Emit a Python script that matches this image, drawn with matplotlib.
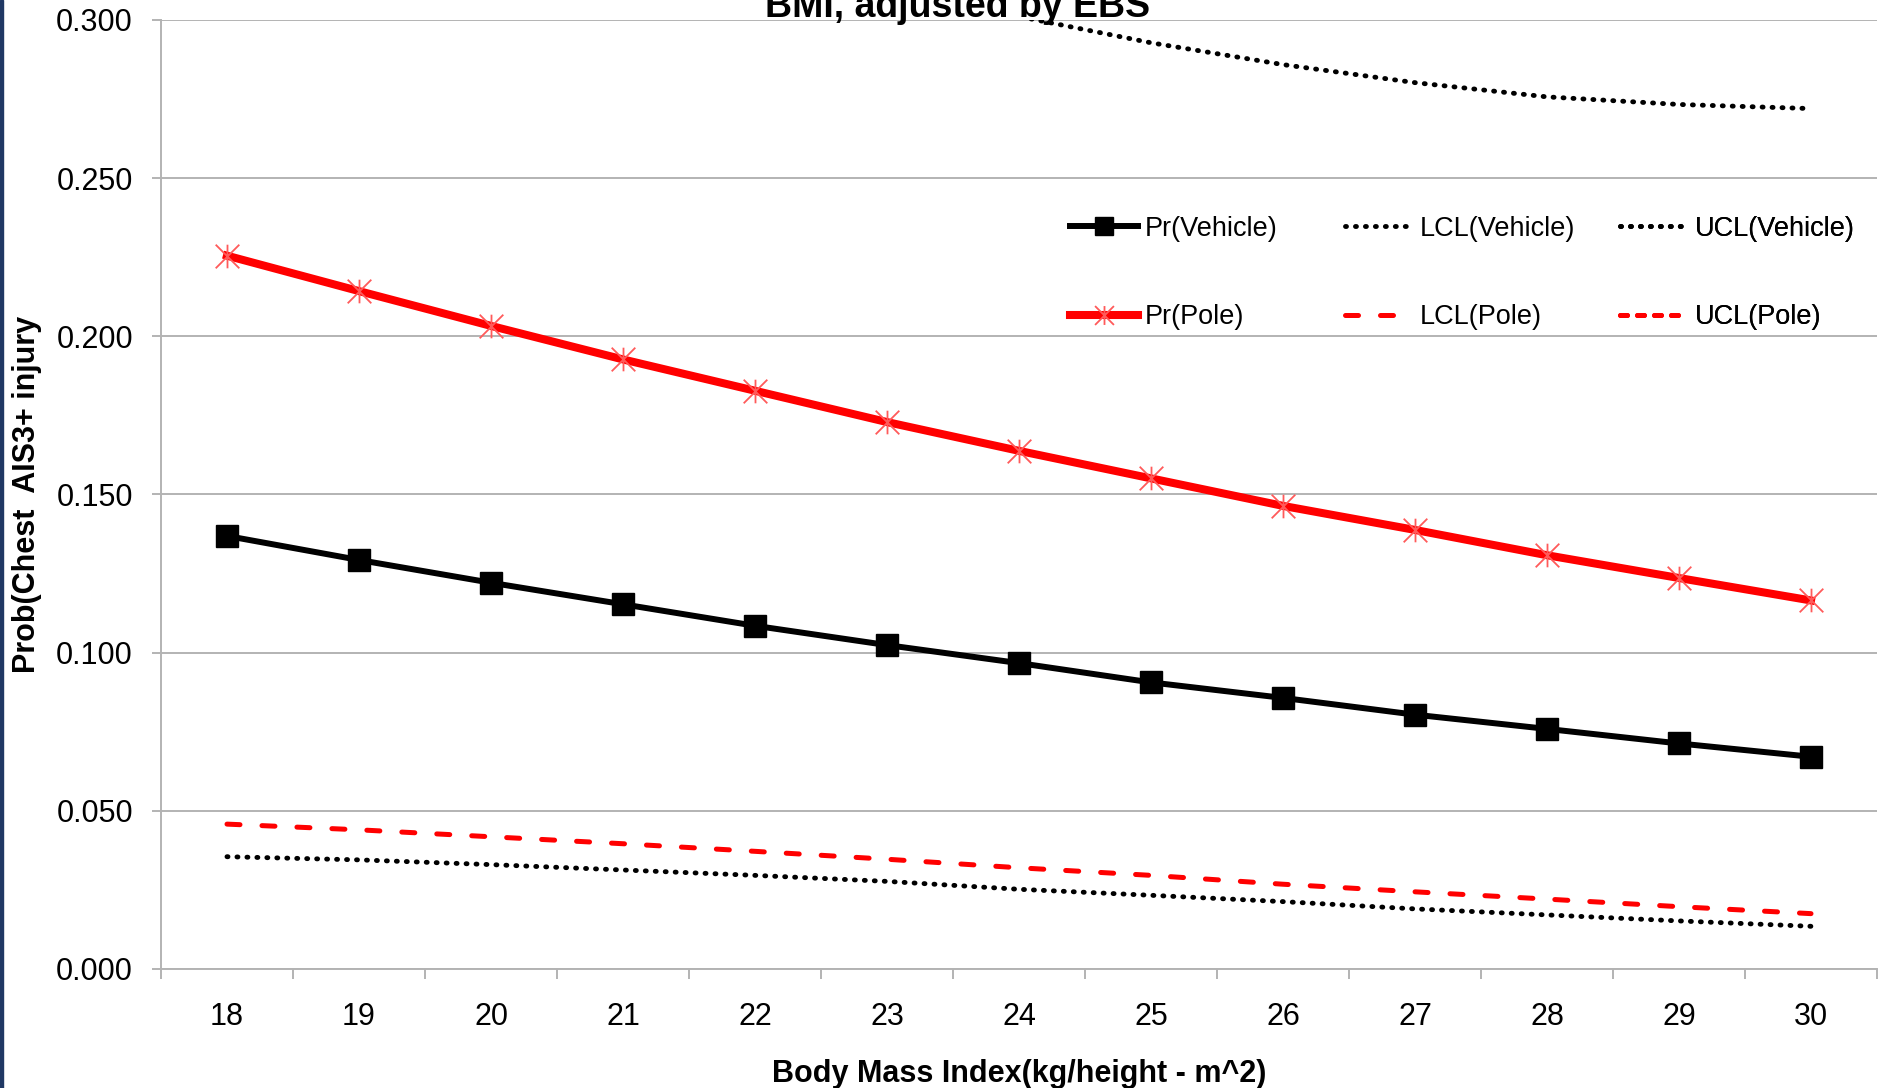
import matplotlib
matplotlib.use("Agg")
import matplotlib.pyplot as plt
import numpy as np
from matplotlib.path import Path
from matplotlib.patches import Rectangle
from matplotlib.ticker import FormatStrFormatter, MultipleLocator, FixedLocator

plt.rcParams['font.family'] = ['Liberation Sans', 'DejaVu Sans']

bmi = [18, 19, 20, 21, 22, 23, 24, 25, 26, 27, 28, 29, 30]

pr_vehicle = [0.1369, 0.1293, 0.1221, 0.1153, 0.1085, 0.1024, 0.0967,
              0.0906, 0.0857, 0.0804, 0.0759, 0.0713, 0.0671]
lcl_vehicle = [0.0355, 0.0345, 0.0330, 0.0313, 0.0296, 0.0277, 0.0252,
               0.0233, 0.0213, 0.0190, 0.0171, 0.0152, 0.0135]
ucl_vehicle = [0.3808, 0.3638, 0.3483, 0.3343, 0.3218, 0.3108, 0.3011,
               0.2928, 0.2859, 0.2802, 0.2757, 0.2733, 0.2720]

pr_pole = [0.2255, 0.2143, 0.2033, 0.1927, 0.1828, 0.1729, 0.1638,
           0.1551, 0.1464, 0.1388, 0.1308, 0.1236, 0.1165]
lcl_pole = [0.0458, 0.0440, 0.0418, 0.0396, 0.0372, 0.0347, 0.0320,
            0.0296, 0.0268, 0.0244, 0.0221, 0.0197, 0.0175]
ucl_pole = [0.660, 0.645, 0.630, 0.615, 0.600, 0.585, 0.570,
            0.556, 0.542, 0.528, 0.515, 0.502, 0.490]

GRID = '#b3b3b3'

# asterisk marker: an X with a vertical stroke through it
star = Path([(-1, -1), (1, 1), (-1, 1), (1, -1), (0, -1), (0, 1)],
            [Path.MOVETO, Path.LINETO, Path.MOVETO, Path.LINETO,
             Path.MOVETO, Path.LINETO])

W, H = 1880, 1088
fig = plt.figure(figsize=(W / 100, H / 100), dpi=100)
ax = fig.add_axes([161 / W, 1 - 969 / H, (1877 - 161) / W, (969 - 20) / H])

dots = dict(color='black', lw=3.5, linestyle=(0, (0.2, 1.85)),
            dash_capstyle='round', zorder=4)

l_prv, = ax.plot(bmi, pr_vehicle, color='black', lw=4.3, marker='s', ms=16,
                 mew=1, label='Pr(Vehicle)', zorder=5)
l_lclv, = ax.plot(bmi, lcl_vehicle, label='LCL(Vehicle)', **dots)
l_uclv, = ax.plot(bmi, ucl_vehicle, label='UCL(Vehicle)', **dots)
l_prp, = ax.plot(bmi, pr_pole, color='#ff0000', lw=5.8, marker=star, ms=17,
                 mec='#ff5a5a', mew=1.3, label='Pr(Pole)', zorder=5)
l_lclp, = ax.plot(bmi, lcl_pole, color='#ff0000', lw=3.6,
                  linestyle=(0, (2.6, 4.4)), dash_capstyle='round',
                  label='LCL(Pole)', zorder=4)
l_uclp, = ax.plot(bmi, ucl_pole, color='#ff0000', lw=3.6,
                  linestyle=(0, (1.4, 2.0)), dash_capstyle='round',
                  label='UCL(Pole)', zorder=4)

ax.set_xlim(17.5, 30.5)
ax.set_ylim(0, 0.3)

ax.yaxis.set_major_locator(MultipleLocator(0.05))
ax.yaxis.set_major_formatter(FormatStrFormatter('%.3f'))
ax.grid(axis='y', color=GRID, lw=1.4)
ax.set_axisbelow(True)

# category boundaries carry the tick marks, the centres carry the labels
ax.xaxis.set_major_locator(FixedLocator(np.arange(17.5, 31, 1)))
ax.xaxis.set_minor_locator(FixedLocator(bmi))
ax.set_xticklabels([], minor=False)
ax.set_xticklabels([str(b) for b in bmi], minor=True)
ax.tick_params(axis='x', which='major', length=7.2, width=1.4, color=GRID)
ax.tick_params(axis='x', which='minor', length=0, pad=23.5, labelsize=22)
ax.tick_params(axis='y', length=6.5, width=1.4, color=GRID, pad=13.7,
               labelsize=22)

for s in ('top', 'right'):
    ax.spines[s].set_visible(False)
for s in ('left', 'bottom'):
    ax.spines[s].set_color(GRID)
    ax.spines[s].set_linewidth(1.4)

# three legend columns of equal width
cols = [(l_prv, l_prp), (l_lclv, l_lclp), (l_uclv, l_uclp)]
xs = [(1070 - 161) / 1716, (1345 - 161) / 1716, (1620 - 161) / 1716]
for hs, x in zip(cols, xs):
    leg = ax.legend(handles=list(hs), loc='center left',
                    bbox_to_anchor=(x, (969 - 273) / 949), frameon=False,
                    fontsize=19.5, borderpad=0, borderaxespad=0,
                    handlelength=2.5, handletextpad=0.27, labelspacing=2.3,
                    numpoints=1, markerscale=0.8)
    ax.add_artist(leg)

fig.text(958 / W, 1 - 17 / H, 'BMI, adjusted by EBS', ha='center',
         va='baseline', fontsize=27, fontweight='bold')
fig.text(1019 / W, 1 - 1074 / H, 'Body Mass Index(kg/height - m^2)',
         ha='center', va='center', fontsize=22, fontweight='bold')
fig.text(27 / W, 1 - 494 / H, 'Prob(Chest  AIS3+ injury', ha='center',
         va='center', rotation=90, fontsize=22, fontweight='bold')

fig.patches.append(Rectangle((0, 0), 3 / W, 1, transform=fig.transFigure,
                             color='#203864', zorder=10))

fig.savefig('out.png', dpi=100)
